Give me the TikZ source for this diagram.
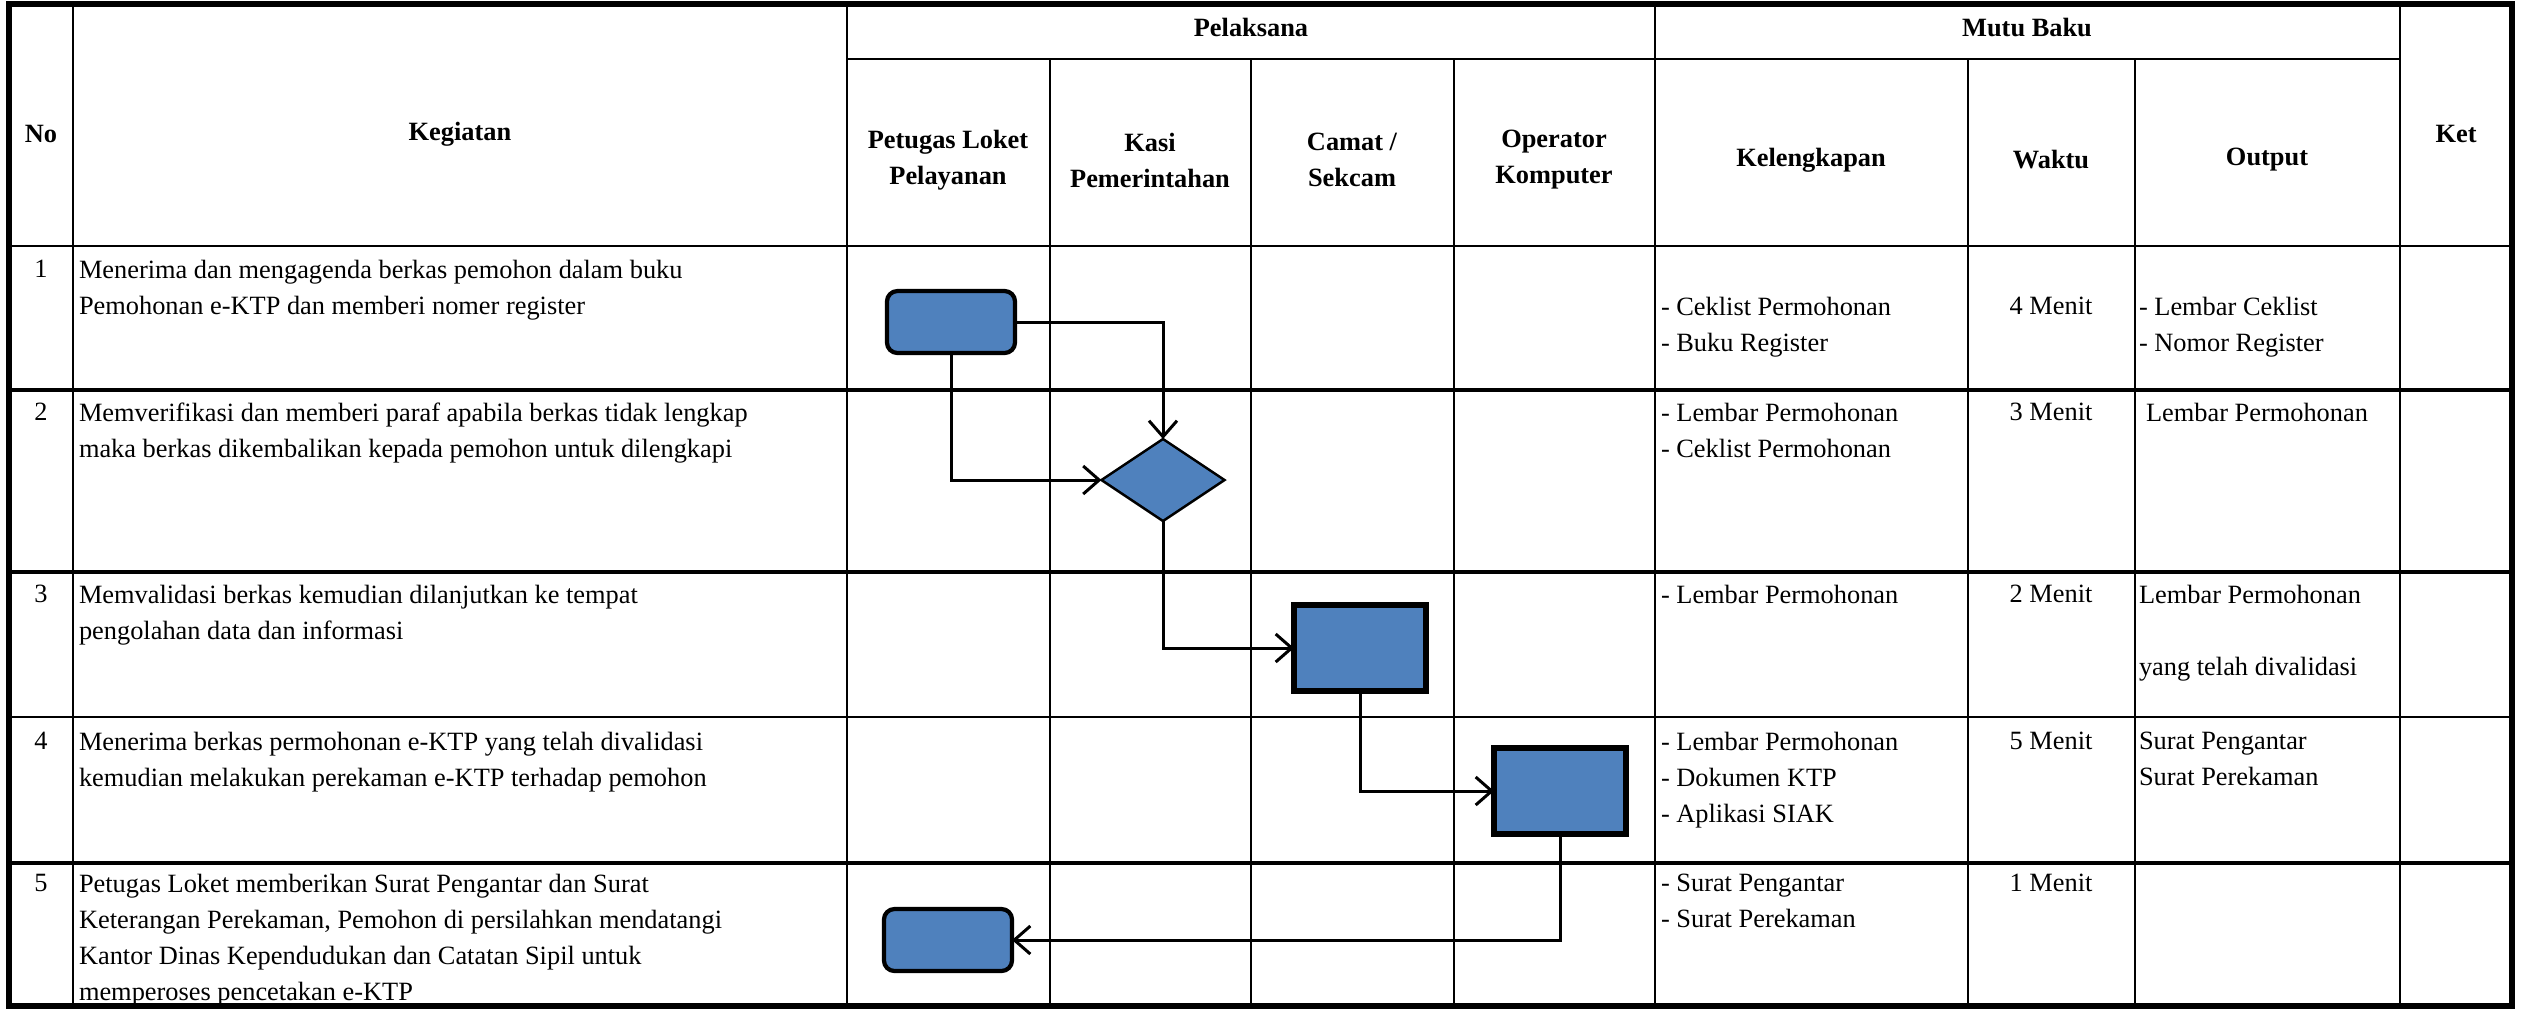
\documentclass[tikz,border=0pt]{standalone}
\usepackage{fontspec}
\setmainfont{Liberation Serif}
\usetikzlibrary{shapes.geometric,arrows.meta}
\definecolor{boxblue}{RGB}{79,129,189}

\begin{document}
\begin{tikzpicture}[x=0.01cm,y=-0.01cm,
  every node/.style={inner sep=0pt,outer sep=0pt,font=\fontsize{7.5}{10.25}\selectfont},
  head/.style={align=center,font=\fontsize{7.5}{10.25}\selectfont\bfseries},
  cell/.style={anchor=north west,align=left},
  num/.style={anchor=north,align=center},
  frame/.style={line width=1.5pt},
  grid/.style={line width=0.8pt},
  rowline/.style={line width=1.1pt},
  proc/.style={draw,line width=1.5pt,fill=boxblue,minimum width=1.32cm,minimum height=0.86cm},
  term/.style={draw,line width=1.2pt,fill=boxblue,rounded corners=3pt,minimum width=1.28cm,minimum height=0.62cm},
  dec/.style={diamond,draw,line width=0.7pt,fill=boxblue,minimum width=1.23cm,minimum height=0.82cm},
  flow/.style={line width=0.85pt,-{Straight Barb[length=1.6mm,width=2.8mm,line width=0.85pt]}}]
  \useasboundingbox (0,0) rectangle (2521,1008);

  \draw[frame] (9,4) rectangle (2512,1006);
  \draw[grid] (73,4) -- (73,1006);
  \draw[grid] (847,4) -- (847,1006);
  \draw[grid] (1655,4) -- (1655,1006);
  \draw[grid] (2400,4) -- (2400,1006);
  \draw[grid] (1050,59) -- (1050,1006);
  \draw[grid] (1251,59) -- (1251,1006);
  \draw[grid] (1454,59) -- (1454,1006);
  \draw[grid] (1968,59) -- (1968,1006);
  \draw[grid] (2135,59) -- (2135,1006);
  \draw[grid] (847,59) -- (2400,59);
  \draw[grid] (9,246) -- (2512,246);
  \draw[rowline] (9,390) -- (2512,390);
  \draw[rowline] (9,572) -- (2512,572);
  \draw[grid] (9,717) -- (2512,717);
  \draw[rowline] (9,863) -- (2512,863);

  \node[head] (no) at (41,134) {No};
  \node[head] (keg) at (460,134) {Kegiatan};
  \node[head] (pel) at (1251,27) {Pelaksana};
  \node[head] (mutu) at (2027,27) {Mutu Baku};
  \node[head] (ket) at (2456,134) {Ket};
  \node[head] (petugas) at (948,160) {Petugas Loket\\Pelayanan};
  \node[head] (kasi) at (1150,160) {Kasi\\Pemerintahan};
  \node[head] (camat) at (1352,160) {Camat /\\Sekcam};
  \node[head] (operator) at (1554,160) {Operator\\Komputer};
  \node[head] (kel) at (1811,160) {Kelengkapan};
  \node[head] (waktu) at (2051,160) {Waktu};
  \node[head] (output) at (2267,160) {Output};

  \node[num] (n1) at (41,260) {1};
  \node[cell] (k1) at (79,260) {Menerima dan mengagenda berkas pemohon dalam buku\\Pemohonan e-KTP dan memberi nomer register};
  \node[cell] (l1) at (1661,297) {- Ceklist Permohonan\\- Buku Register};
  \node[num] (w1) at (2051,297) {4 Menit};
  \node[cell] (o1) at (2139,297) {- Lembar Ceklist\\- Nomor Register};

  \node[num] (n2) at (41,403) {2};
  \node[cell] (k2) at (79,403) {Memverifikasi dan memberi paraf apabila berkas tidak lengkap\\maka berkas dikembalikan kepada pemohon untuk dilengkapi};
  \node[cell] (l2) at (1661,403) {- Lembar Permohonan\\- Ceklist Permohonan};
  \node[num] (w2) at (2051,403) {3 Menit};
  \node[cell] (o2) at (2146,403) {Lembar Permohonan};

  \node[num] (n3) at (41,585) {3};
  \node[cell] (k3) at (79,585) {Memvalidasi berkas kemudian dilanjutkan ke tempat\\pengolahan data dan informasi};
  \node[cell] (l3) at (1661,585) {- Lembar Permohonan};
  \node[num] (w3) at (2051,585) {2 Menit};
  \node[cell] (o3) at (2139,585) {Lembar Permohonan\\[10.25pt]yang telah divalidasi};

  \node[num] (n4) at (41,732) {4};
  \node[cell] (k4) at (79,732) {Menerima berkas permohonan e-KTP yang telah divalidasi\\kemudian melakukan perekaman e-KTP terhadap pemohon};
  \node[cell] (l4) at (1661,732) {- Lembar Permohonan\\- Dokumen KTP\\- Aplikasi SIAK};
  \node[num] (w4) at (2051,732) {5 Menit};
  \node[cell] (o4) at (2139,732) {Surat Pengantar\\Surat Perekaman};

  \node[num] (n5) at (41,874) {5};
  \node[cell] (k5) at (79,874) {Petugas Loket memberikan Surat Pengantar dan Surat\\Keterangan Perekaman, Pemohon di persilahkan mendatangi\\Kantor Dinas Kependudukan dan Catatan Sipil untuk\\memperoses pencetakan e-KTP};
  \node[cell] (l5) at (1661,874) {- Surat Pengantar\\- Surat Perekaman};
  \node[num] (w5) at (2051,874) {1 Menit};

  \node[term] (s1) at (951,322) {};
  \node[dec] (d2) at (1163,480) {};
  \node[proc] (s3) at (1360,648) {};
  \node[proc] (s4) at (1560,791) {};
  \node[term] (s5) at (948,940) {};

  \draw[flow] (s1.east) -| (d2.north);
  \draw[flow] (s1.south) |- (d2.west);
  \draw[flow] (d2.south) |- (s3.west);
  \draw[flow] (s3.south) |- (s4.west);
  \draw[flow] (s4.south) |- (s5.east);
\end{tikzpicture}
\end{document}
